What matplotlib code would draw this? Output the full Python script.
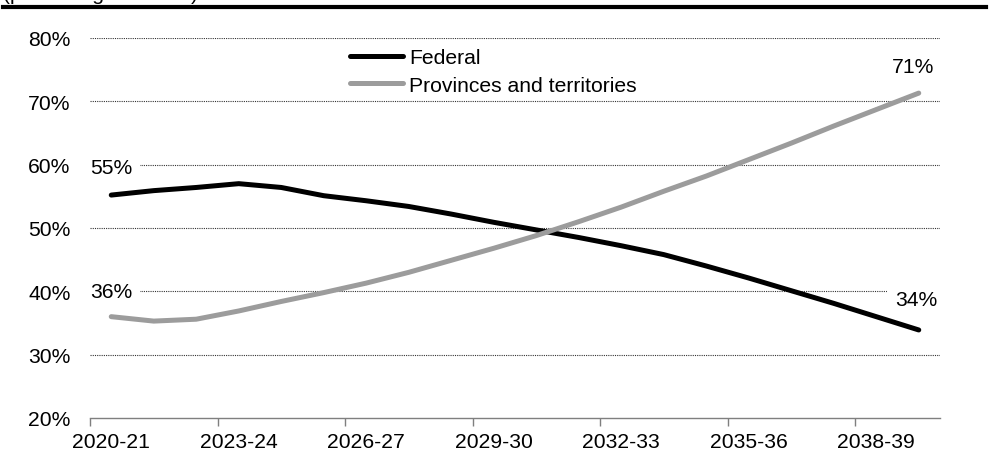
import matplotlib.pyplot as plt
from matplotlib.lines import Line2D
from matplotlib.ticker import FixedLocator, NullFormatter, FixedFormatter

plt.rcParams['font.family'] = ['Liberation Sans', 'DejaVu Sans']
FS = 15.2

years = ["2020-21", "2021-22", "2022-23", "2023-24", "2024-25", "2025-26", "2026-27",
         "2027-28", "2028-29", "2029-30", "2030-31", "2031-32", "2032-33", "2033-34",
         "2034-35", "2035-36", "2036-37", "2037-38", "2038-39", "2039-40"]
federal = [55.2, 55.9, 56.4, 57.0, 56.4, 55.1, 54.3, 53.4, 52.2, 50.9,
           49.7, 48.5, 47.2, 45.8, 44.0, 42.1, 40.1, 38.1, 36.0, 33.9]
provinces = [36.0, 35.3, 35.6, 36.9, 38.4, 39.8, 41.3, 43.0, 44.9, 46.8,
             48.8, 51.0, 53.3, 55.8, 58.2, 60.8, 63.4, 66.1, 68.7, 71.3]
yticks = [20, 30, 40, 50, 60, 70, 80]

fig = plt.figure(figsize=(9.89, 4.64), dpi=100)
ax = fig.add_axes([90 / 989, 1 - 419 / 464, 850 / 989, 380 / 464])

x = list(range(len(years)))
ax.plot(x, federal, color='black', lw=3.6, solid_capstyle='round', zorder=4, label='Federal')
ax.plot(x, provinces, color='#9c9c9c', lw=3.6, solid_capstyle='round', zorder=4,
        label='Provinces and territories')

ax.set_xlim(-0.5, len(years) - 0.5)
ax.set_ylim(yticks[0], yticks[-1])

# y axis: labels only, dotted gridlines above the baseline
ax.set_yticks(yticks)
ax.set_yticklabels([f"{t}%" for t in yticks], fontsize=FS)
ax.tick_params(axis='y', length=0, pad=14)
for t in yticks[1:]:
    ax.axhline(t, color='#333333', lw=0.8, ls=(0, (1, 1)), zorder=1)

# x axis: tick marks between categories, labels on every third category
ax.xaxis.set_major_locator(FixedLocator([i - 0.5 for i in range(0, len(years), 3)]))
ax.xaxis.set_major_formatter(NullFormatter())
ax.xaxis.set_minor_locator(FixedLocator(list(range(0, len(years), 3))))
ax.xaxis.set_minor_formatter(FixedFormatter(years[::3]))
ax.tick_params(axis='x', which='major', length=6, width=1, color='#7f7f7f', direction='out')
ax.tick_params(axis='x', which='minor', length=0, pad=10, labelsize=FS)

for s in ['left', 'right', 'top']:
    ax.spines[s].set_visible(False)
ax.spines['bottom'].set_color('#7f7f7f')
ax.spines['bottom'].set_linewidth(1)

# end-point value labels
box = dict(boxstyle='square,pad=0.35', fc='white', ec='none')
labels = [(federal, 0, (0, 20)), (provinces, 0, (0, 18)),
          (provinces, -1, (-4, 19)), (federal, -1, (-2, 22))]
for series, i, off in labels:
    xi = x[i]
    ax.annotate(f"{series[i]:.0f}%", (xi, series[i]), xytext=off, textcoords='offset points',
                ha='center', va='center', fontsize=FS, bbox=box, zorder=3)

leg = fig.legend(loc='upper left', bbox_to_anchor=(350 / 989, 1 - 49 / 464), frameon=False,
                 fontsize=FS, handlelength=2.5, handletextpad=0.3, borderpad=0,
                 borderaxespad=0, labelspacing=0.42)
for h in leg.get_lines():
    h.set_linewidth(3.6)

# header rule and its caption above it
fig.text(0.003, 1.0, "(percentage of GDP)", fontsize=FS, va='baseline', ha='left')
fig.add_artist(Line2D([3 / 989, 986 / 989], [1 - 8 / 464, 1 - 8 / 464],
                      color='black', lw=3, transform=fig.transFigure))

fig.savefig('out.png', dpi=100)
